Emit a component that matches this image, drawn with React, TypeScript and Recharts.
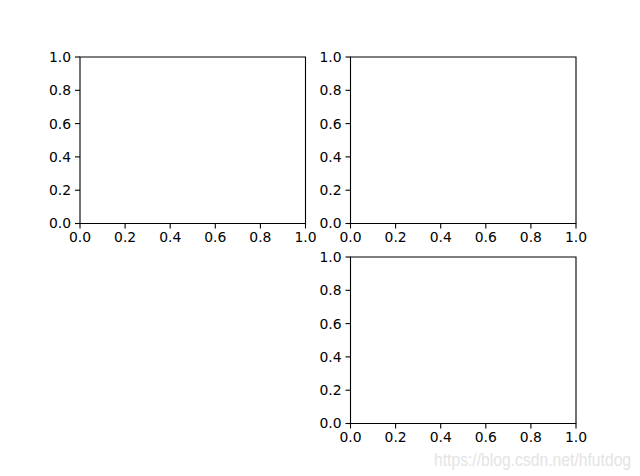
import React from "react";
import { ScatterChart, Scatter, XAxis, YAxis, ReferenceArea } from "recharts";

const W = 640;
const H = 476;

// tick labels shared by every subplot
const xTicks = [0, 0.2, 0.4, 0.6, 0.8, 1.0];
const yTicks = [0, 0.2, 0.4, 0.6, 0.8, 1.0];
const axisDomain = [0, 1];

// each subplot is empty
const emptyPoints: { x: number; y: number }[] = [];

// axes rectangles in figure pixels (left, top, right, bottom)
const panels = [
  { id: "ax1", left: 80, top: 57, right: 305.5, bottom: 223.5 },
  { id: "ax2", left: 350.5, top: 57, right: 576, bottom: 223.5 },
  { id: "ax3", left: 350.5, top: 257, right: 576, bottom: 423.5 },
];

const Y_AXIS_W = 40;
const X_AXIS_H = 30;

const tickStyle = { fill: "#000", fontSize: 13.9, fontFamily: "DejaVu Sans" };

function Panel({ left, top, right, bottom }: { left: number; top: number; right: number; bottom: number }) {
  return (
    <div style={{ position: "absolute", left: 0, top: 0 }}>
      <ScatterChart
        width={W}
        height={H}
        margin={{ left: left - Y_AXIS_W, top, right: W - right, bottom: H - bottom - X_AXIS_H }}
      >
        <XAxis
          type="number"
          dataKey="x"
          domain={axisDomain}
          ticks={xTicks}
          interval={0}
          height={X_AXIS_H}
          tickFormatter={(v: number) => v.toFixed(1)}
          tick={tickStyle}
          tickSize={5}
          tickMargin={4}
          axisLine={false}
          tickLine={{ stroke: "#000", strokeWidth: 1.1 }}
          allowDataOverflow
        />
        <YAxis
          type="number"
          dataKey="y"
          domain={axisDomain}
          ticks={yTicks}
          interval={0}
          width={Y_AXIS_W}
          tickFormatter={(v: number) => v.toFixed(1)}
          tick={tickStyle}
          tickSize={5}
          tickMargin={4}
          axisLine={false}
          tickLine={{ stroke: "#000", strokeWidth: 1.1 }}
          allowDataOverflow
        />
        <ReferenceArea
          x1={0}
          x2={1}
          y1={0}
          y2={1}
          fill="none"
          stroke="#000"
          strokeWidth={1.1}
          fillOpacity={0}
          strokeOpacity={1}
          ifOverflow="visible"
        />
        <Scatter data={emptyPoints} fill="#1f77b4" isAnimationActive={false} />
      </ScatterChart>
    </div>
  );
}

export default function App() {
  return (
    <div style={{ position: "absolute", left: 0, top: 0, width: W, height: H, background: "#fff" }}>
      {panels.map((p) => (
        <Panel key={p.id} left={p.left} top={p.top} right={p.right} bottom={p.bottom} />
      ))}
      <svg width={W} height={H} style={{ position: "absolute", left: 0, top: 0, pointerEvents: "none" }}>
        <text
          transform="translate(434,466) scale(1,1.18)"
          fontFamily="Liberation Sans"
          fontSize={15.7}
          fill="#e4e4e4"
        >
          https://blog.csdn.net/hfutdog
        </text>
      </svg>
    </div>
  );
}
